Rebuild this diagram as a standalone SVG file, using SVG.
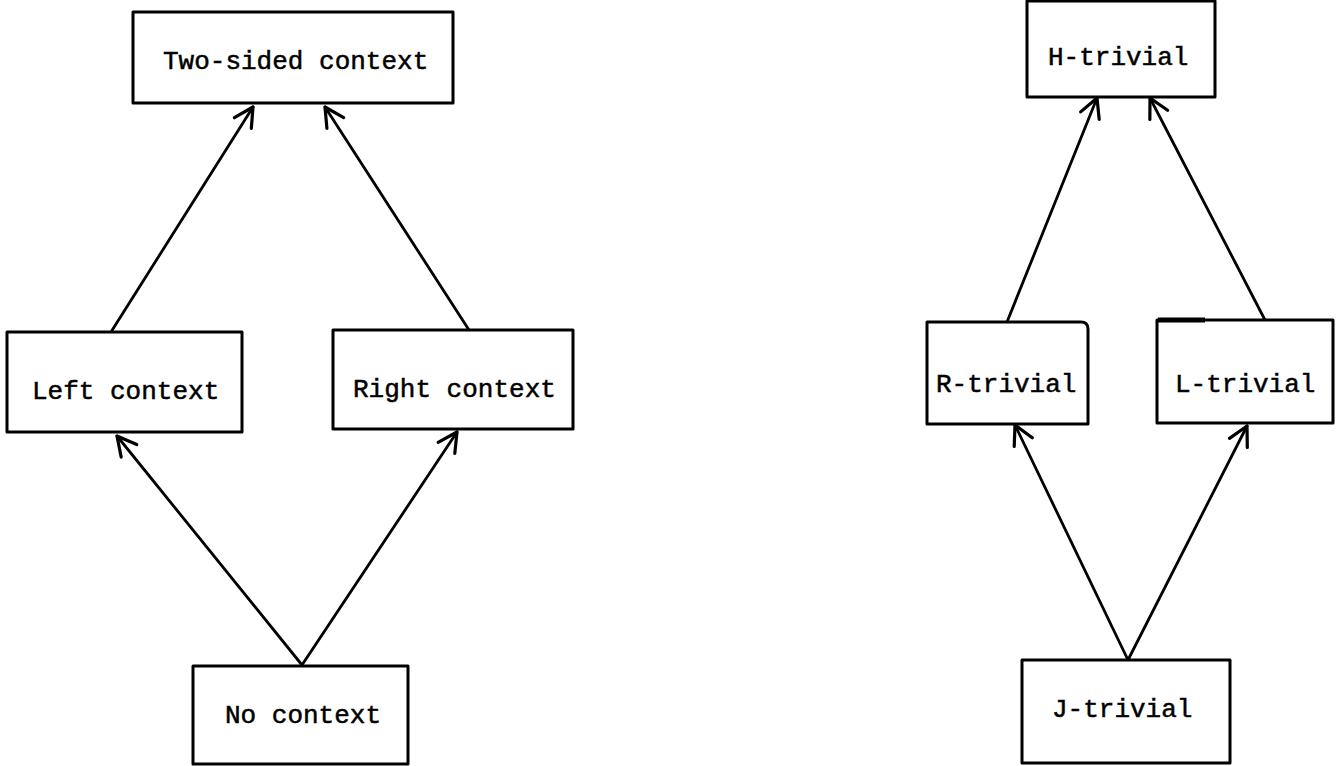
<svg xmlns="http://www.w3.org/2000/svg" width="1337" height="766" viewBox="0 0 1337 766">
  <style>
    .box { fill: #ffffff; stroke: #000000; stroke-width: 3; stroke-linejoin: round; }
    .label { font-family: "Liberation Mono", "Courier New", monospace; font-size: 26px; fill: #000000; stroke: #000000; stroke-width: 0.5; }
    .edge { fill: none; stroke: #000000; stroke-width: 2.8; stroke-linecap: round; }
  </style>
  <defs>
    <!-- open, hand-drawn style arrowhead -->
    <marker id="open-head" viewBox="-25 -15 30 30" refX="0" refY="0" markerWidth="30" markerHeight="30" markerUnits="userSpaceOnUse" orient="auto" overflow="visible">
      <path d="M-19,-10 L0,0 L-19,10" fill="none" stroke="#000000" stroke-width="3.2" stroke-linecap="round" stroke-linejoin="round"/>
    </marker>
  </defs>
  <rect width="1337" height="766" fill="#ffffff"/>

  <!-- connectors -->
  <g id="connectors">
    <path class="edge" d="M111,332 L253,107" marker-end="url(#open-head)"/>
    <path class="edge" d="M469,330 L325,107" marker-end="url(#open-head)"/>
    <path class="edge" d="M302,665 L117,436" marker-end="url(#open-head)"/>
    <path class="edge" d="M302,665 L457,432" marker-end="url(#open-head)"/>
    <path class="edge" d="M1007,322 L1097,98" marker-end="url(#open-head)"/>
    <path class="edge" d="M1265,320 L1150,98" marker-end="url(#open-head)"/>
    <path class="edge" d="M1128,660 L1015,425" marker-end="url(#open-head)"/>
    <path class="edge" d="M1128,660 L1247,426" marker-end="url(#open-head)"/>
  </g>

  <!-- context hierarchy -->
  <g id="two-sided">
    <rect class="box" x="133" y="12" width="320" height="91"/>
    <text class="label" x="163" y="69">Two-sided context</text>
  </g>
  <g id="left-context">
    <rect class="box" x="7" y="332" width="235" height="100"/>
    <text class="label" x="32" y="399">Left context</text>
  </g>
  <g id="right-context">
    <rect class="box" x="333" y="330" width="240" height="99"/>
    <text class="label" x="353" y="397">Right context</text>
  </g>
  <g id="no-context">
    <rect class="box" x="193" y="666" width="215" height="98"/>
    <text class="label" x="225" y="723">No context</text>
  </g>

  <!-- triviality hierarchy -->
  <g id="h-trivial">
    <rect class="box" x="1027" y="1" width="188" height="96"/>
    <text class="label" x="1048" y="65">H-trivial</text>
  </g>
  <g id="r-trivial">
    <path class="box" d="M927,322 L1081,322 Q1088,322 1088,329 L1088,424 L927,424 Z"/>
    <text class="label" x="936" y="392">R-trivial</text>
  </g>
  <g id="l-trivial">
    <rect class="box" x="1157" y="320" width="176" height="103"/>
    <path d="M1158,320 L1205,320" fill="none" stroke="#000000" stroke-width="5"/>
    <text class="label" x="1175" y="392">L-trivial</text>
  </g>
  <g id="j-trivial">
    <rect class="box" x="1022" y="660" width="208" height="103"/>
    <text class="label" x="1052" y="717">J-trivial</text>
  </g>
</svg>
